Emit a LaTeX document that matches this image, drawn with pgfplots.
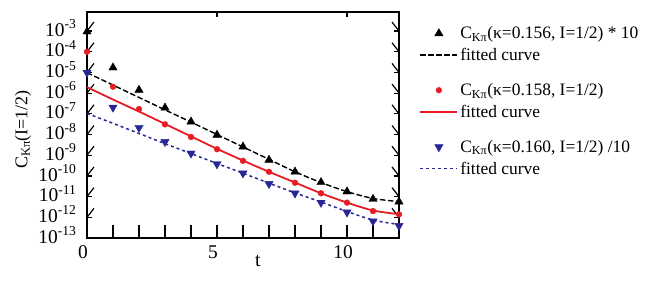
\documentclass[border=0pt]{standalone}
\usepackage{fontspec}
\setmainfont{Liberation Serif}
\usepackage{pgfplots}
\pgfplotsset{compat=1.18}
\definecolor{myred}{RGB}{232,28,36}
\definecolor{myblue}{RGB}{38,38,150}
\pgfplotsset{
  marklegend/.style={legend image code/.code={\draw[mark repeat=2,mark phase=2,##1] plot coordinates {(0bp,0bp)(18.5bp,0bp)(37bp,0bp)};}},
  linelegend/.style={legend image code/.code={\draw[##1] (0bp,0bp) -- (37bp,0bp);}},
}
\begin{document}
\begin{tikzpicture}
\path[use as bounding box] (-87bp,-44bp) rectangle (577bp,238bp);
\begin{axis}[
  at={(0,0)}, anchor=south west, scale only axis,
  width=312bp, height=226bp,
  xmin=0, xmax=12, ymode=log, ymin=1e-13, ymax=8.3e-3,
  axis line style={line width=1.4bp, draw=black},
  xtick={0,5,10},
  ytick={1e-13,1e-12,1e-11,1e-10,1e-9,1e-8,1e-7,1e-6,1e-5,1e-4,1e-3},
  yticklabels={10\textsuperscript{-13},10\textsuperscript{-12},10\textsuperscript{-11},10\textsuperscript{-10},10\textsuperscript{-9},10\textsuperscript{-8},10\textsuperscript{-7},10\textsuperscript{-6},10\textsuperscript{-5},10\textsuperscript{-4},10\textsuperscript{-3}},
  yminorticks=false, xminorticks=false,
  tick align=inside, major tick length=5bp,
  major tick style={line width=1.2bp, draw=black},
  /pgf/number format/assume math mode=true,
  ticklabel style={font=\fontsize{19.5}{21}\selectfont},
  yticklabel style={xshift=-7bp, yshift=3bp},
  xticklabel style={yshift=-4bp, xshift=-4bp},
  xlabel={t},
  every axis x label/.style={at={(axis description cs:0.548,-0.1)}, anchor=center, font=\fontsize{20}{22}\selectfont},
  ylabel={C\textsubscript{Kπ}(I=1/2)},
  every axis y label/.style={at={(axis description cs:-0.205,0.48)}, rotate=90, anchor=center, font=\fontsize{18}{20}\selectfont},
  legend style={draw=none, fill=none, at={(1.065,0.945)}, anchor=north west,
    font=\fontsize{17.5}{19}\selectfont, row sep=4bp, inner sep=0pt},
  legend cell align=left,
]
% tick marks on all four sides
\pgfplotsinvokeforeach{1,...,11}{
  \draw[line width=1.2bp, draw=black] (axis cs:#1,1e-13) -- ++(0,4.5bp);
  \draw[line width=1.2bp, draw=black] (axis cs:#1,8.3e-3) -- ++(0,-4.5bp);
}
\pgfplotsinvokeforeach{-12,...,-3}{
  \draw[line width=1.2bp, draw=black] (axis cs:0,1e#1) -- ++(7bp,0);
  \draw[line width=1.2bp, draw=black] (axis cs:12,1e#1) -- ++(-7bp,0);
}
\addplot[only marks, mark=triangle*, mark size=4.8bp, black, marklegend]
  coordinates {(0,9.33e-4)(1,1.70e-5)(2,1.41e-6)(3,1.95e-7)(4,4.17e-8)(5,9.55e-9)(6,2.57e-9)(7,5.89e-10)(8,1.58e-10)(9,4.90e-11)(10,1.74e-11)(11,7.59e-12)(12,5.62e-12)};
\addlegendentry{C\textsubscript{Kπ}(κ=0.156, I=1/2) * 10}
\addplot[black, line width=1.4bp, dash pattern=on 5.5bp off 2.5bp, smooth, no marks, linelegend]
  coordinates {(0,9.77e-6)(1,2.45e-6)(2,6.17e-7)(3,1.55e-7)(4,3.98e-8)(5,1.0e-8)(6,2.51e-9)(7,6.31e-10)(8,1.58e-10)(9,4.79e-11)(10,1.74e-11)(11,8.13e-12)(12,5.75e-12)};
\addlegendentry{fitted curve}
\addlegendimage{empty legend}
\addlegendentry{\rule{0pt}{4bp}}
\addplot[only marks, mark=*, mark size=2.9bp, myred, marklegend]
  coordinates {(0,1.0e-4)(1,2.04e-6)(2,1.70e-7)(3,3.09e-8)(4,7.59e-9)(5,1.95e-9)(6,5.37e-10)(7,1.58e-10)(8,4.68e-11)(9,1.45e-11)(10,5.13e-12)(11,2.00e-12)(12,1.38e-12)};
\addlegendentry{C\textsubscript{Kπ}(κ=0.158, I=1/2)}
\addplot[myred, line width=1.8bp, smooth, no marks, linelegend]
  coordinates {(0,1.95e-6)(1,4.90e-7)(2,1.29e-7)(3,3.24e-8)(4,8.13e-9)(5,2.04e-9)(6,5.50e-10)(7,1.58e-10)(8,4.79e-11)(9,1.45e-11)(10,5.13e-12)(11,2.14e-12)(12,1.41e-12)};
\addlegendentry{fitted curve}
\addlegendimage{empty legend}
\addlegendentry{\rule{0pt}{4bp}}
\addplot[only marks, mark=triangle*, mark options={rotate=180}, mark size=4.8bp, myblue, marklegend]
  coordinates {(0,9.77e-6)(1,2.04e-7)(2,2.14e-8)(3,4.47e-9)(4,1.23e-9)(5,3.72e-10)(6,1.35e-10)(7,4.17e-11)(8,1.45e-11)(9,5.13e-12)(10,1.74e-12)(11,6.46e-13)(12,3.89e-13)};
\addlegendentry{C\textsubscript{Kπ}(κ=0.160, I=1/2) /10}
\addplot[myblue, line width=1.5bp, dash pattern=on 3bp off 3bp, smooth, no marks, linelegend]
  coordinates {(0,1.05e-7)(1,3.47e-8)(2,1.12e-8)(3,3.63e-9)(4,1.20e-9)(5,3.98e-10)(6,1.35e-10)(7,4.47e-11)(8,1.51e-11)(9,5.50e-12)(10,1.91e-12)(11,7.41e-13)(12,4.47e-13)};
\addlegendentry{fitted curve}
\end{axis}
\end{tikzpicture}
\end{document}
